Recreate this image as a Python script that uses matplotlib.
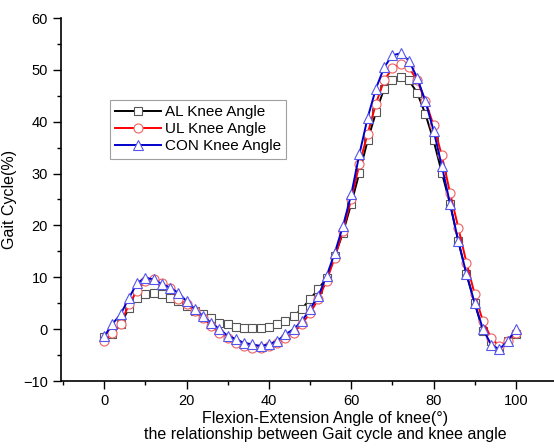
import matplotlib
matplotlib.use("Agg")
import matplotlib.pyplot as plt
from matplotlib.ticker import MultipleLocator

plt.rcParams['font.family'] = ['Liberation Sans', 'DejaVu Sans']

# knee angle (x) sampled every 2 units
angle = list(range(0, 101, 2))

al_knee = [-1.5, -1.0, 1.0, 4.0, 6.0, 6.7, 7.0, 6.7, 6.0, 5.4,
           4.4, 3.5, 2.9, 2.2, 1.2, 0.9, 0.5, 0.3, 0.3, 0.3,
           0.5, 0.9, 1.5, 2.5, 3.9, 5.8, 7.7, 9.9, 14.1, 18.6,
           24.2, 30.2, 36.4, 41.8, 46.4, 48.0, 48.7, 48.0, 45.6, 41.5,
           36.4, 30.2, 24.2, 17.0, 10.6, 5.0, -0.4, -2.3, -3.6, -2.3,
           -1.0]

ul_knee = [-2.3, -0.7, 1.0, 4.8, 7.4, 9.3, 9.6, 8.9, 8.0, 5.8,
           4.8, 3.5, 2.2, 0.6, -0.7, -1.7, -2.7, -3.3, -3.6, -3.6,
           -3.3, -2.7, -1.7, -0.7, 1.0, 3.1, 5.8, 9.3, 13.8, 19.0,
           25.0, 31.9, 37.7, 43.5, 48.0, 50.3, 51.2, 50.5, 48.0, 44.0,
           39.3, 33.5, 26.3, 19.6, 12.8, 6.7, 1.5, -1.7, -3.3, -2.3,
           -0.7]

con_knee = [-1.4, 1.0, 2.9, 6.0, 8.9, 9.9, 9.6, 8.7, 8.0, 7.0,
            5.4, 3.9, 2.5, 1.2, 0.0, -1.3, -1.9, -2.7, -2.9, -3.3,
            -2.9, -2.3, -1.0, 0.0, 1.5, 3.9, 6.4, 10.2, 14.7, 19.9,
            26.0, 33.8, 40.8, 46.4, 50.5, 52.8, 53.2, 51.8, 48.5, 44.0,
            38.3, 31.5, 24.2, 17.0, 10.6, 5.0, 0.0, -3.0, -3.9, -2.3,
            0.0]

fig = plt.figure(figsize=(5.54, 4.48), dpi=100)
# axes run past the right edge of the figure, as in the original
ax = fig.add_axes([61/554, 67/448, 529/554, 363/448])

ax.plot(angle, al_knee, color='black', lw=1.4, marker='s', ms=6,
        mfc='white', mec='#555555', mew=0.8, label='AL Knee Angle')
ax.plot(angle, ul_knee, color='red', lw=1.4, marker='o', ms=6.5,
        mfc='white', mec='#f06060', mew=0.8, label='UL Knee Angle')
ax.plot(angle, con_knee, color='#0000cc', lw=1.4, marker='^', ms=7,
        mfc='white', mec='#5555ee', mew=0.8, label='CON Knee Angle')

ax.set_xlim(-10.5, 118)
ax.set_ylim(-10, 60)
ax.xaxis.set_major_locator(MultipleLocator(20))
ax.xaxis.set_minor_locator(MultipleLocator(10))
ax.yaxis.set_major_locator(MultipleLocator(10))
ax.yaxis.set_minor_locator(MultipleLocator(5))
ax.tick_params(which='major', direction='out', length=6, width=1, labelsize=10.5)
ax.tick_params(which='minor', direction='out', length=3, width=1)

for s in ['top', 'right']:
    ax.spines[s].set_visible(False)
for s in ['left', 'bottom']:
    ax.spines[s].set_linewidth(1.2)

ax.set_xlabel('Flexion-Extension Angle of knee(°)\nthe relationship between Gait cycle and knee angle',
              fontsize=11.5, labelpad=2, linespacing=1.1)
ax.set_ylabel('Gait Cycle(%)', fontsize=11.5, labelpad=4)

leg = ax.legend(loc='upper left', bbox_to_anchor=(110/554, 1 - 100/448),
                bbox_transform=fig.transFigure, borderaxespad=0,
                fontsize=11, fancybox=False, handlelength=3.0,
                labelspacing=0.2, handletextpad=0.25, borderpad=0.35)
leg.get_frame().set_edgecolor('#888888')
leg.get_frame().set_linewidth(0.8)

fig.savefig('out.png', dpi=100)
